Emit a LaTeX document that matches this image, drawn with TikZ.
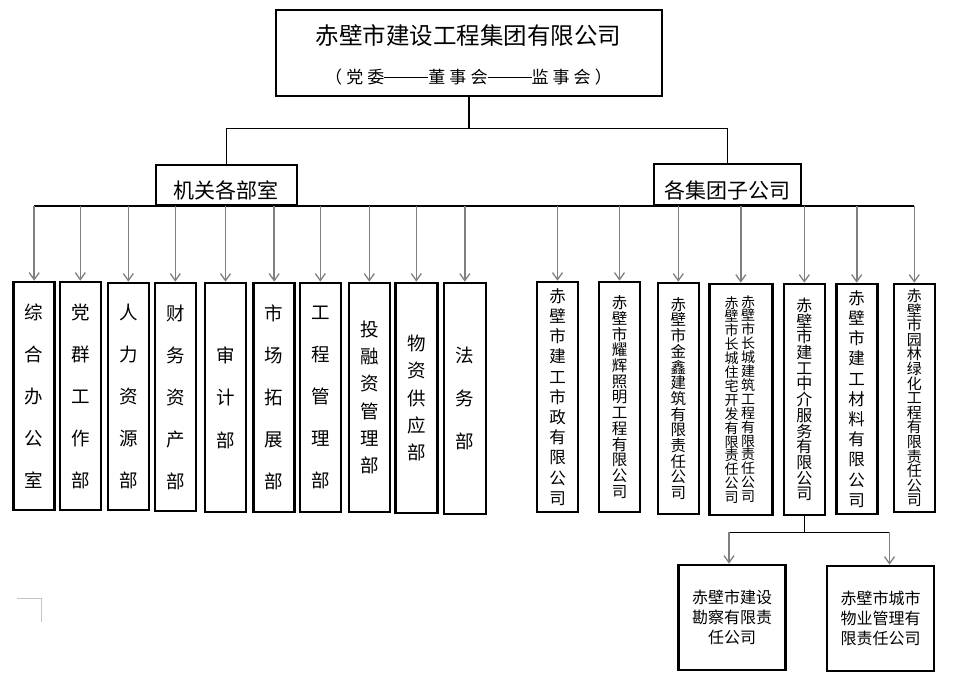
\documentclass[tikz,border=0pt]{standalone}
\usepackage{fontspec}
\setmainfont{Noto Sans CJK SC}
\usetikzlibrary{arrows.meta,calc}
\definecolor{arrgray}{HTML}{7F7F7F}
\definecolor{markgray}{HTML}{C4C4C4}
\newcommand\mydash{\rule[5.2pt]{44pt}{0.9pt}}
\begin{document}
\begin{tikzpicture}[x=1pt,y=-1pt,
  box/.style={draw=black, line width=2.6pt, fill=white, inner sep=0pt, align=center},
  conn/.style={draw=black, line width=1.1pt},
  arr/.style={draw=arrgray, line width=1.6pt, -{Straight Barb[length=7pt,width=10pt,line width=1.3pt]}},
  vt/.style 2 args={font={\fontsize{#1}{#2}\selectfont\lineskiplimit=-30pt}},
  dept/.style={box, minimum width=41, vt={18.5}{42}},
  comp/.style={box, minimum width=41}
]
\useasboundingbox (0,0) rectangle (953,689);

% top
\node[box, minimum width=386, minimum height=86] (top) at (469,53) {};
\node[font=\fontsize{23.5}{28}\selectfont] (t1) at (468.5,36) {赤壁市建设工程集团有限公司};
\node[font=\fontsize{17}{20}\selectfont\addfontfeature{LetterSpace=24}] (t2) at (468.5,77) {（党委\mydash 董事会\mydash 监事会）};

% groups
\node[box, minimum width=141, minimum height=40] (g1) at (226.5,185) {};
\node[font=\fontsize{21}{24}\selectfont] (g1t) at (226,190) {机关各部室};
\node[box, minimum width=147, minimum height=41] (g2) at (727.5,184.5) {};
\node[font=\fontsize{21}{24}\selectfont] (g2t) at (727.5,190) {各集团子公司};

% departments
\node[dept, minimum height=228] (d1) at (34.2,396) {综\\合\\办\\公\\室};
\node[dept, minimum height=228] (d2) at (80.3,396) {党\\群\\工\\作\\部};
\node[dept, minimum height=227] (d3) at (128.3,396.5) {人\\力\\资\\源\\部};
\node[dept, minimum height=228] (d4) at (175.3,397) {财\\务\\资\\产\\部};
\node[dept, minimum height=229, vt={18.5}{42.5}] (d5) at (225.5,397.5) {审\\计\\部};
\node[dept, minimum height=229] (d6) at (274.2,397.5) {市\\场\\拓\\展\\部};
\node[dept, minimum height=229] (d7) at (320.3,397.5) {工\\程\\管\\理\\部};
\node[dept, minimum height=229, vt={18.5}{27.2}] (d8) at (369.3,397.5) {投\\融\\资\\管\\理\\部};
\node[dept, minimum height=230, minimum width=42, vt={18.5}{27.2}] (d9) at (416.3,398) {物\\资\\供\\应\\部};
\node[dept, minimum height=231, minimum width=42, vt={18.5}{43}] (d10) at (464.8,398.5) {法\\务\\部};

% companies
\node[comp, minimum height=230, vt={16.5}{20.2}] (c1) at (557.5,397) {赤\\壁\\市\\建\\工\\市\\政\\有\\限\\公\\司};
\node[comp, minimum height=230, vt={15.5}{15.7}] (c2) at (619.5,397) {赤\\壁\\市\\耀\\辉\\照\\明\\工\\程\\有\\限\\公\\司};
\node[comp, minimum height=231, vt={15.5}{15.7}] (c3) at (678.3,398.5) {赤\\壁\\市\\金\\鑫\\建\\筑\\有\\限\\责\\任\\公\\司};
\node[comp, minimum width=63, minimum height=231] (c4) at (740.8,399.5) {};
\node[vt={14}{13.9}, align=center, inner sep=0pt] (c4r) at (748,399) {赤\\壁\\市\\长\\城\\建\\筑\\工\\程\\有\\限\\责\\任\\公\\司};
\node[vt={14}{13.9}, align=center, inner sep=0pt] (c4l) at (731.7,400) {赤\\壁\\市\\长\\城\\住\\宅\\开\\发\\有\\限\\责\\任\\公\\司};
\node[comp, minimum height=231, vt={16}{15.7}] (c5) at (804.3,399.5) {赤\\壁\\市\\建\\工\\中\\介\\服\\务\\有\\限\\公\\司};
\node[comp, minimum height=230, vt={16.5}{20.2}] (c6) at (856.7,399) {赤\\壁\\市\\建\\工\\材\\料\\有\\限\\公\\司};
\node[comp, minimum height=228, vt={15}{14.6}] (c7) at (914.3,398) {赤\\壁\\市\\园\\林\\绿\\化\\工\\程\\有\\限\\责\\任\\公\\司};

% sub companies
\node[box, minimum width=107, minimum height=105, vt={16}{20}] (s1) at (732,617.5) {赤壁市建设\\勘察有限责\\任公司};
\node[box, minimum width=107, minimum height=105, vt={16}{20}] (s2) at (880.5,618.5) {赤壁市城市\\物业管理有\\限责任公司};

% connectors top
\draw[conn] (top.south) -- ++(0,31) coordinate (tj);
\draw[conn] (g1.north) |- (tj) -| (g2.north);

% bus
\coordinate (bus) at (0,206);
\draw[conn] (d1.north |- bus) -- (c7.north |- bus);
\foreach \n in {d1,d2,d3,d4,d5,d6,d7,d8,d9,d10,c1,c2,c3,c4,c5,c6,c7}
  \draw[arr] (\n.north |- bus) -- (\n.north);

% bottom
\draw[conn] (c5.south) -- ++(0,16) coordinate (sj);
\coordinate (s1in) at ([xshift=-3pt]s1.north);
\coordinate (s2in) at ([xshift=9pt]s2.north);
\draw[conn] (s1in |- sj) -- (s2in |- sj);
\draw[arr] (s1in |- sj) -- (s1in);
\draw[arr] (s2in |- sj) -- (s2in);

% corner mark
\draw[markgray, line width=1pt] (17,598) -- (41,598) -- (41,622);
\end{tikzpicture}
\end{document}
